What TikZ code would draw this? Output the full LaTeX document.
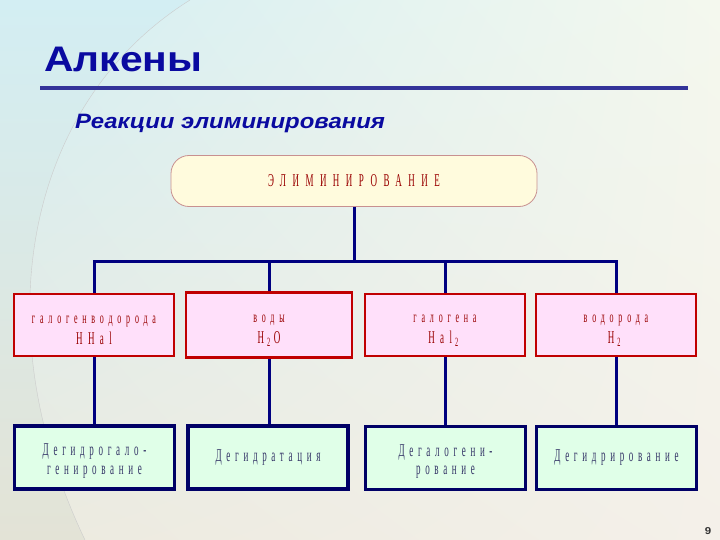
\documentclass[tikz,border=0pt]{standalone}
\usepackage{fontspec}
\usetikzlibrary{shadings}
\setmainfont{Liberation Serif}
\newfontfamily\titlefont[FakeStretch=1.15]{Liberation Sans}
\newfontfamily\narrowfont[FakeStretch=0.5,LetterSpace=30]{Liberation Serif}
\newfontfamily\resultfont[FakeStretch=0.5,LetterSpace=26]{Liberation Serif}
\newfontfamily\spacedfont[FakeStretch=0.5,LetterSpace=36]{Liberation Serif}

\begin{document}
\begin{tikzpicture}[x=1pt, y=-1pt,
    link/.style={line width=3pt, draw=linkColour},
    topbox/.style={draw=topBorder, fill=topFill, line width=0.8pt, rounded corners=18pt,
        minimum width=366pt, minimum height=51pt, text=boxText,
        font=\spacedfont\fontsize{18}{20}\selectfont},
    groupbox/.style={draw=groupBorder, fill=groupFill, line width=2.5pt,
        minimum width=160pt, minimum height=62pt, align=center, text=boxText,
        font=\narrowfont\fontsize{16}{21}\selectfont},
    resultbox/.style={draw=resultBorder, fill=resultFill, line width=3.5pt,
        minimum width=160pt, minimum height=63pt, align=center, text=resultText,
        font=\resultfont\fontsize{18}{18.5}\selectfont}]

    \definecolor{bgTL}{HTML}{D3EEF3}
    \definecolor{bgTR}{HTML}{F4F8EE}
    \definecolor{bgBL}{HTML}{ECEADF}
    \definecolor{bgBR}{HTML}{F4F0E9}
    \definecolor{bgArc}{HTML}{E3E3D6}
    \definecolor{titleColour}{HTML}{0A0AA0}
    \definecolor{ruleColour}{HTML}{333399}
    \definecolor{linkColour}{HTML}{000080}
    \definecolor{topBorder}{HTML}{C89090}
    \definecolor{topFill}{HTML}{FFFBDD}
    \definecolor{groupBorder}{HTML}{C00000}
    \definecolor{groupFill}{HTML}{FFE0FA}
    \definecolor{boxText}{HTML}{990000}
    \definecolor{resultBorder}{HTML}{000066}
    \definecolor{resultFill}{HTML}{E0FFE8}
    \definecolor{resultText}{HTML}{333366}

    \def\formula#1{{\fontsize{18}{20}\selectfont #1}}
    \def\low#1{\kern3pt\textsubscript{#1}\kern3pt}
    \def\lift{\rule{0pt}{19pt}}

    % Background of the slide
    \useasboundingbox (0,0) rectangle (720,540);
    \shade[upper left=bgTL, upper right=bgTR, lower left=bgBL, lower right=bgBR] (0,0) rectangle (720,540);
    \shade[top color=bgTL, bottom color=bgArc] (0,0) -- (190,0) .. controls (30,100) and (-20,320) .. (85,540) -- (0,540) -- cycle;
    \draw[gray!40, thin] (190,0) .. controls (30,100) and (-20,320) .. (85,540);

    % Heading
    \node[anchor=base west, inner sep=0pt, text=titleColour,
        font=\titlefont\bfseries\fontsize{35.5}{38}\selectfont] (title) at (44,72) {Алкены};
    \draw[line width=4pt, ruleColour] (40,88) -- (688,88);
    \node[anchor=base west, inner sep=0pt, text=titleColour,
        font=\titlefont\bfseries\itshape\fontsize{20.8}{23}\selectfont] (subtitle) at (75,129) {Реакции элиминирования};

    % Scheme
    \node[topbox] (elim) at (354,181) {ЭЛИМИНИРОВАНИЕ};

    \node[groupbox] (hhal) at (94,325) {\lift галогенводорода\\\formula{HHal}};
    \node[groupbox, minimum width=166pt, minimum height=65pt] (water) at (269,325) {\lift воды\\\formula{H\low{2}O}};
    \node[groupbox] (halogen) at (445,325) {\lift галогена\\\formula{Hal\low{2}}};
    \node[groupbox] (hydrogen) at (616,325) {\lift водорода\\\formula{H\low{2}}};

    \node[resultbox] (dehydrohal) at (94.5,457.5) {\lift Дегидрогало-\\генирование};
    \node[resultbox] (dehydration) at (268,457.5) {Дегидратация};
    \node[resultbox] (dehalogen) at (445.5,458) {\lift Дегалогени-\\рование};
    \node[resultbox] (dehydrogen) at (616.5,458) {Дегидрирование};

    % Connectors
    \coordinate (bus) at (354,261);
    \draw[link] (elim.south) -- (bus);
    \draw[link] (hhal.north) |- (bus) -| (hydrogen.north);
    \draw[link] (water.north) -- (water.north |- bus);
    \draw[link] (halogen.north) -- (halogen.north |- bus);
    \foreach \from/\to in {hhal/dehydrohal, water/dehydration, halogen/dehalogen, hydrogen/dehydrogen}
        \draw[link] (\from.south) -- (\from.south |- \to.north);

    % Slide number
    \node[font=\titlefont\bfseries\fontsize{10}{12}\selectfont, text=black!80] (page) at (708,531) {9};

\end{tikzpicture}
\end{document}
